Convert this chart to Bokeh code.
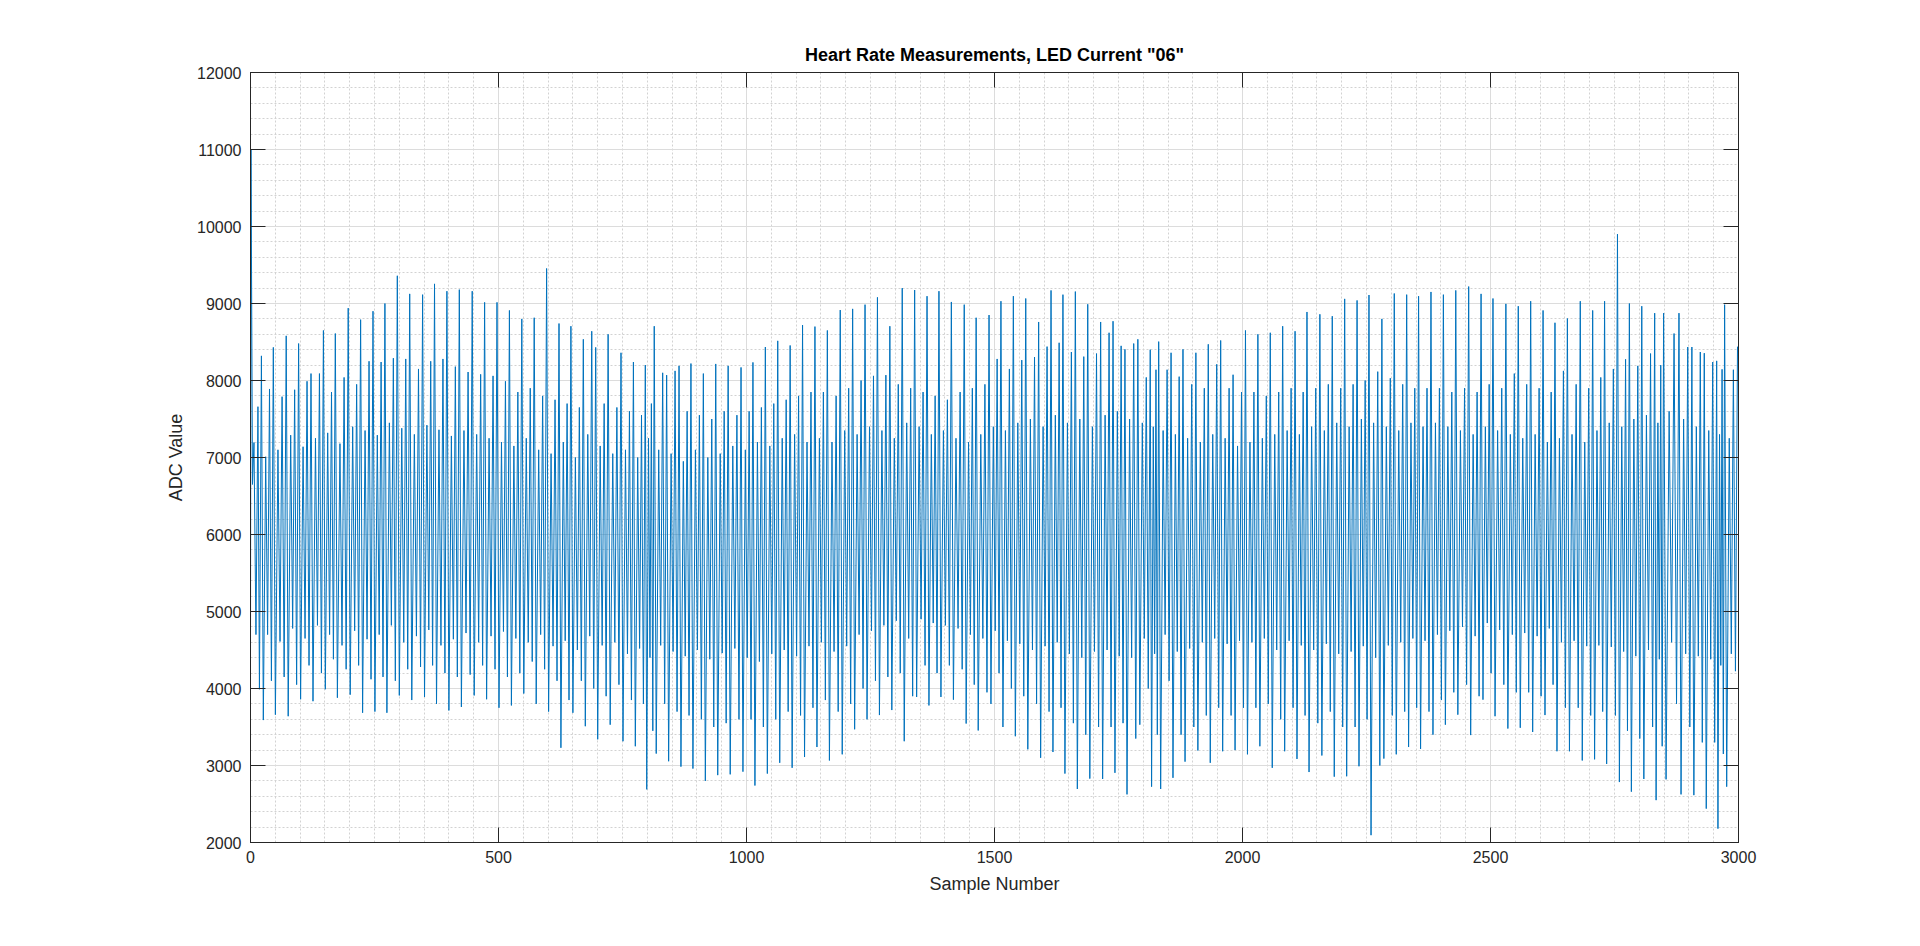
from bokeh.plotting import figure
from bokeh.models import SingleIntervalTicker, LinearAxis, Range1d, CustomLabelingPolicy
from bokeh.embed import file_html
from bokeh.resources import INLINE

# ---- data ----
title_text = 'Heart Rate Measurements, LED Current "06"'
x_label = "Sample Number"
y_label = "ADC Value"

# first samples before the first beat
lead_pos = [0, 1, 4, 7, 11, 15, 18]
lead_val = [4400, 11000, 6650, 7195, 4700, 7660, 3990]

# tall (systolic) peaks: sample position and ADC value
beat_pos = [22, 46, 72, 97, 122, 147, 171, 197, 222, 247,
            271, 296, 321, 347, 371, 396, 421, 447, 472, 497,
            522, 547, 572, 597, 622, 646, 671, 696, 721, 747,
            772, 796, 814, 839, 864, 888, 913, 938, 963, 989,
            1013, 1038, 1063, 1088, 1113, 1138, 1163, 1189, 1214, 1239,
            1264, 1289, 1314, 1339, 1364, 1388, 1413, 1439, 1463, 1489,
            1513, 1538, 1563, 1589, 1614, 1638, 1663, 1688, 1714, 1739,
            1763, 1789, 1814, 1831, 1856, 1880, 1906, 1931, 1956, 1981,
            2006, 2031, 2056, 2081, 2106, 2130, 2156, 2181, 2206, 2231,
            2255, 2281, 2306, 2331, 2355, 2380, 2405, 2430, 2456, 2481,
            2505, 2531, 2556, 2581, 2606, 2630, 2655, 2681, 2706, 2730,
            2756, 2780, 2805, 2831, 2849, 2880, 2906, 2931, 2956, 2972,
            2998]
beat_peak = [8320, 8430, 8580, 8480, 8090, 8650, 8610, 8940, 8790, 8900,
             9000, 9360, 9125, 9115, 9255, 9160, 9180, 9160, 9015, 9015,
             8910, 8800, 8815, 9455, 8740, 8705, 8535, 8430, 8600, 8360,
             8240, 8200, 8705, 8070, 8190, 8220, 8090, 8215, 8190, 8170,
             8235, 8435, 8515, 8455, 8720, 8700, 8650, 8915, 8930, 8985,
             9080, 8705, 9200, 9175, 9095, 9160, 9020, 8985, 8815, 8850,
             9030, 9095, 9065, 8760, 9170, 9115, 9155, 8990, 8760, 8770,
             8405, 8535, 8400, 8505, 8360, 8405, 8360, 8470, 8520, 8075,
             8650, 8600, 8620, 8705, 8640, 8890, 8860, 8835, 9060, 9040,
             9110, 8800, 9130, 9115, 9095, 9150, 9115, 9170, 9220, 9125,
             9065, 8995, 8965, 9030, 8910, 8750, 8805, 9030, 8910, 9030,
             9900, 9000, 8965, 8875, 8875, 8875, 8435, 8355, 8255, 8985,
             8440]

# values inside each beat (one entry per gap between two tall peaks)
deep_trough = [3590, 3660, 3640, 3860, 3835, 3990, 3880, 3920, 3685, 3700,
               3685, 3910, 3850, 3890, 3800, 3715, 3760, 3910, 3860, 3750,
               3780, 3935, 3800, 3700, 3230, 3685, 3510, 3340, 3530, 3315,
               3250, 2690, 3155, 3055, 2985, 2960, 2800, 2875, 2885, 2920,
               2740, 2895, 3035, 2970, 3110, 3240, 3065, 3145, 3470, 3600,
               3655, 3720, 3315, 3890, 3780, 3890, 3855, 3545, 3455, 3800,
               3500, 3380, 3210, 3100, 3175, 2895, 2695, 2830, 2825, 2905,
               2625, 3530, 2725, 2695, 2840, 3050, 3195, 3035, 3185, 3200,
               3145, 3250, 2970, 3185, 3085, 2915, 3130, 2855, 2860, 2990,
               2095, 3090, 3145, 3240, 3215, 3400, 3530, 3660, 3395, 3855,
               3640, 3480, 3490, 3435, 3655, 3185, 3185, 3065, 3080, 3020,
               2785, 2660, 2825, 2550, 2820, 2625, 2615, 2440, 2180, 2725]
mid_peak_1 = [7010, 7100, 7290, 7140, 7250, 7320, 7180, 7400, 7350, 7290,
              7450, 7380, 7300, 7420, 7360, 7280, 7350, 7300, 7250, 7200,
              7150, 7250, 7100, 7050, 7200, 7000, 7300, 7150, 7050, 7100,
              7000, 7250, 7100, 7050, 6950, 7100, 7000, 7050, 7150, 7100,
              7200, 7150, 7250, 7300, 7200, 7250, 7200, 7350, 7300, 7400,
              7350, 7250, 7450, 7400, 7300, 7350, 7250, 7200, 7300, 7400,
              7350, 7450, 7500, 7400, 7550, 7450, 7500, 7400, 7550, 7600,
              7500, 7450, 7400, 7350, 7300, 7250, 7200, 7300, 7250, 7150,
              7200, 7250, 7300, 7350, 7300, 7400, 7350, 7450, 7400, 7500,
              7450, 7400, 7350, 7450, 7400, 7450, 7400, 7350, 7300, 7400,
              7350, 7300, 7250, 7300, 7200, 7250, 7300, 7200, 7350, 7450,
              7400, 7500, 7550, 7450, 7600, 7500, 7400, 7350, 7300, 7250]
mid_trough_1 = [4700, 4610, 4780, 4650, 4820, 4700, 4560, 4750, 4640, 4700,
                4820, 4600, 4680, 4760, 4560, 4640, 4720, 4600, 4680, 4740,
                4650, 4600, 4700, 4550, 4620, 4500, 4680, 4560, 4600, 4450,
                4520, 4400, 4560, 4480, 4420, 4500, 4380, 4460, 4520, 4400,
                4350, 4450, 4500, 4420, 4550, 4600, 4480, 4550, 4700, 4750,
                4820, 4880, 4650, 4900, 4850, 4820, 4780, 4700, 4650, 4750,
                4620, 4580, 4500, 4550, 4600, 4450, 4400, 4480, 4500, 4420,
                4400, 4650, 4450, 4700, 4480, 4520, 4600, 4650, 4580, 4620,
                4600, 4650, 4500, 4620, 4560, 4500, 4580, 4450, 4480, 4550,
                4400, 4560, 4600, 4650, 4620, 4700, 4750, 4800, 4680, 4850,
                4760, 4700, 4720, 4680, 4780, 4600, 4620, 4550, 4560, 4540,
                4480, 4420, 4500, 4380, 4600, 4450, 4420, 4380, 4300, 4450]
mid_peak_2 = [7890, 7790, 7880, 7990, 8090, 7850, 8040, 7950, 8250, 8240,
              8290, 8280, 8150, 8250, 8280, 8180, 8110, 8080, 8060, 7990,
              7850, 7900, 7800, 7750, 7700, 7650, 8640, 7700, 7650, 7600,
              7550, 7700, 8100, 8125, 7600, 7550, 7500, 7600, 7550, 7600,
              7650, 7700, 7750, 7800, 7850, 7850, 7800, 7900, 8000, 8060,
              8070, 7950, 7900, 7850, 7800, 7750, 7850, 7900, 7950, 8280,
              8150, 8265, 8305, 8440, 8490, 8370, 8310, 8350, 8620, 8450,
              8480, 8040, 8140, 8140, 8050, 7950, 7900, 8210, 7900, 7850,
              7850, 7800, 7850, 7900, 7850, 7900, 7950, 7900, 7950, 8000,
              8115, 8030, 7950, 7900, 7900, 7900, 7850, 7900, 7850, 7950,
              7900, 8090, 7950, 7900, 7850, 8125, 7950, 7900, 8040, 8150,
              8275, 8190, 8350, 8200, 8610, 8435, 8370, 8240, 8145, 8140]
mid_trough_2 = [4100, 4150, 4050, 4300, 4200, 4380, 4250, 4300, 4120, 4150,
                4100, 4250, 4280, 4300, 4200, 4150, 4180, 4300, 4250, 4150,
                4200, 4350, 4250, 4100, 3850, 4100, 4000, 3900, 4050, 3850,
                3800, 3450, 3800, 3700, 3650, 3600, 3500, 3550, 3600, 3600,
                3500, 3600, 3700, 3650, 3750, 3850, 3700, 3800, 4000, 4100,
                4150, 4200, 3900, 4300, 4200, 4300, 4250, 4050, 3950, 4200,
                4000, 3900, 3800, 3700, 3750, 3550, 3400, 3500, 3500, 3550,
                3350, 4000, 3400, 4100, 3400, 3500, 3650, 3750, 3650, 3750,
                3750, 3800, 3600, 3750, 3650, 3550, 3700, 3500, 3500, 3600,
                3000, 3650, 3700, 3750, 3700, 3850, 3950, 4050, 3900, 4200,
                4050, 3950, 3950, 3900, 4050, 3750, 3750, 3650, 3700, 3650,
                3450, 3350, 3500, 3250, 3800, 3500, 3300, 3300, 3150, 4225]

x_ticks_interval = 500
y_ticks_interval = 1000

# ---- assemble the vertex sequence of the trace ----
shape_frac = (0.16, 0.36, 0.52, 0.68, 0.84)
xs = list(lead_pos)
ys = list(lead_val)
for i in range(len(beat_pos)):
    xs.append(beat_pos[i])
    ys.append(beat_peak[i])
    if i < len(deep_trough):
        gap = beat_pos[i + 1] - beat_pos[i]
        vals = (deep_trough[i], mid_peak_1[i], mid_trough_1[i], mid_peak_2[i], mid_trough_2[i])
        for f, v in zip(shape_frac, vals):
            xs.append(beat_pos[i] + f * gap)
            ys.append(v)

FONT = "Liberation Sans"
TXT = "#262626"

p = figure(width=1904, height=930, output_backend="svg", toolbar_location=None,
           x_range=Range1d(0, 3000), y_range=Range1d(2000, 12000),
           min_border_left=250, min_border_right=166, min_border_top=72, min_border_bottom=88,
           title=title_text, x_axis_label=x_label, y_axis_label=y_label)
p.background_fill_color = "white"
p.border_fill_color = "white"
p.outline_line_color = TXT
p.outline_line_width = 1

p.title.align = "center"
p.title.vertical_align = "bottom"
p.title.text_font = FONT
p.title.text_font_size = "18px"
p.title.text_line_height = 1.4
p.title.text_font_style = "bold"
p.title.text_color = "#000000"
p.title.standoff = 0

xt = SingleIntervalTicker(interval=x_ticks_interval, num_minor_ticks=10)
yt = SingleIntervalTicker(interval=y_ticks_interval, num_minor_ticks=5)
p.xaxis.ticker = xt
p.yaxis.ticker = yt

for ax in list(p.xaxis) + list(p.yaxis):
    ax.major_tick_in = 15
    ax.major_tick_out = 0
    ax.minor_tick_in = 0
    ax.minor_tick_out = 0
    ax.axis_line_color = TXT
    ax.major_tick_line_color = TXT
    ax.major_label_text_font = FONT
    ax.major_label_text_font_size = "16px"
    ax.major_label_text_color = TXT
    ax.axis_label_text_font = FONT
    ax.axis_label_text_font_size = "18px"
    ax.axis_label_text_font_style = "normal"
    ax.axis_label_text_color = TXT
p.xaxis.major_label_standoff = 8
p.xaxis.axis_label_standoff = 8
p.yaxis.major_label_standoff = 9
p.yaxis.axis_label_standoff = 8

no_labels = CustomLabelingPolicy(code="return new Set()")
top_ax = LinearAxis(ticker=xt, major_tick_in=15, major_tick_out=0, minor_tick_in=0, minor_tick_out=0,
                    axis_line_color=TXT, major_tick_line_color=TXT,
                    major_label_policy=no_labels, major_label_standoff=0,
                    major_label_text_font_size="8px")
right_ax = LinearAxis(ticker=yt, major_tick_in=15, major_tick_out=0, minor_tick_in=0, minor_tick_out=0,
                      axis_line_color=TXT, major_tick_line_color=TXT,
                      major_label_policy=no_labels, major_label_standoff=0,
                      major_label_text_font_size="8px")
p.add_layout(top_ax, "above")
p.add_layout(right_ax, "right")

for g in (p.xgrid, p.ygrid):
    g.grid_line_color = "#dcdcdc"
    g.grid_line_width = 1
    g.minor_grid_line_color = "#d2d2d2"
    g.minor_grid_line_width = 1
    g.minor_grid_line_dash = "2 2"

p.line(xs, ys, line_color="#0072BD", line_width=1.0)

open("out.html", "w").write(file_html(p, INLINE))
